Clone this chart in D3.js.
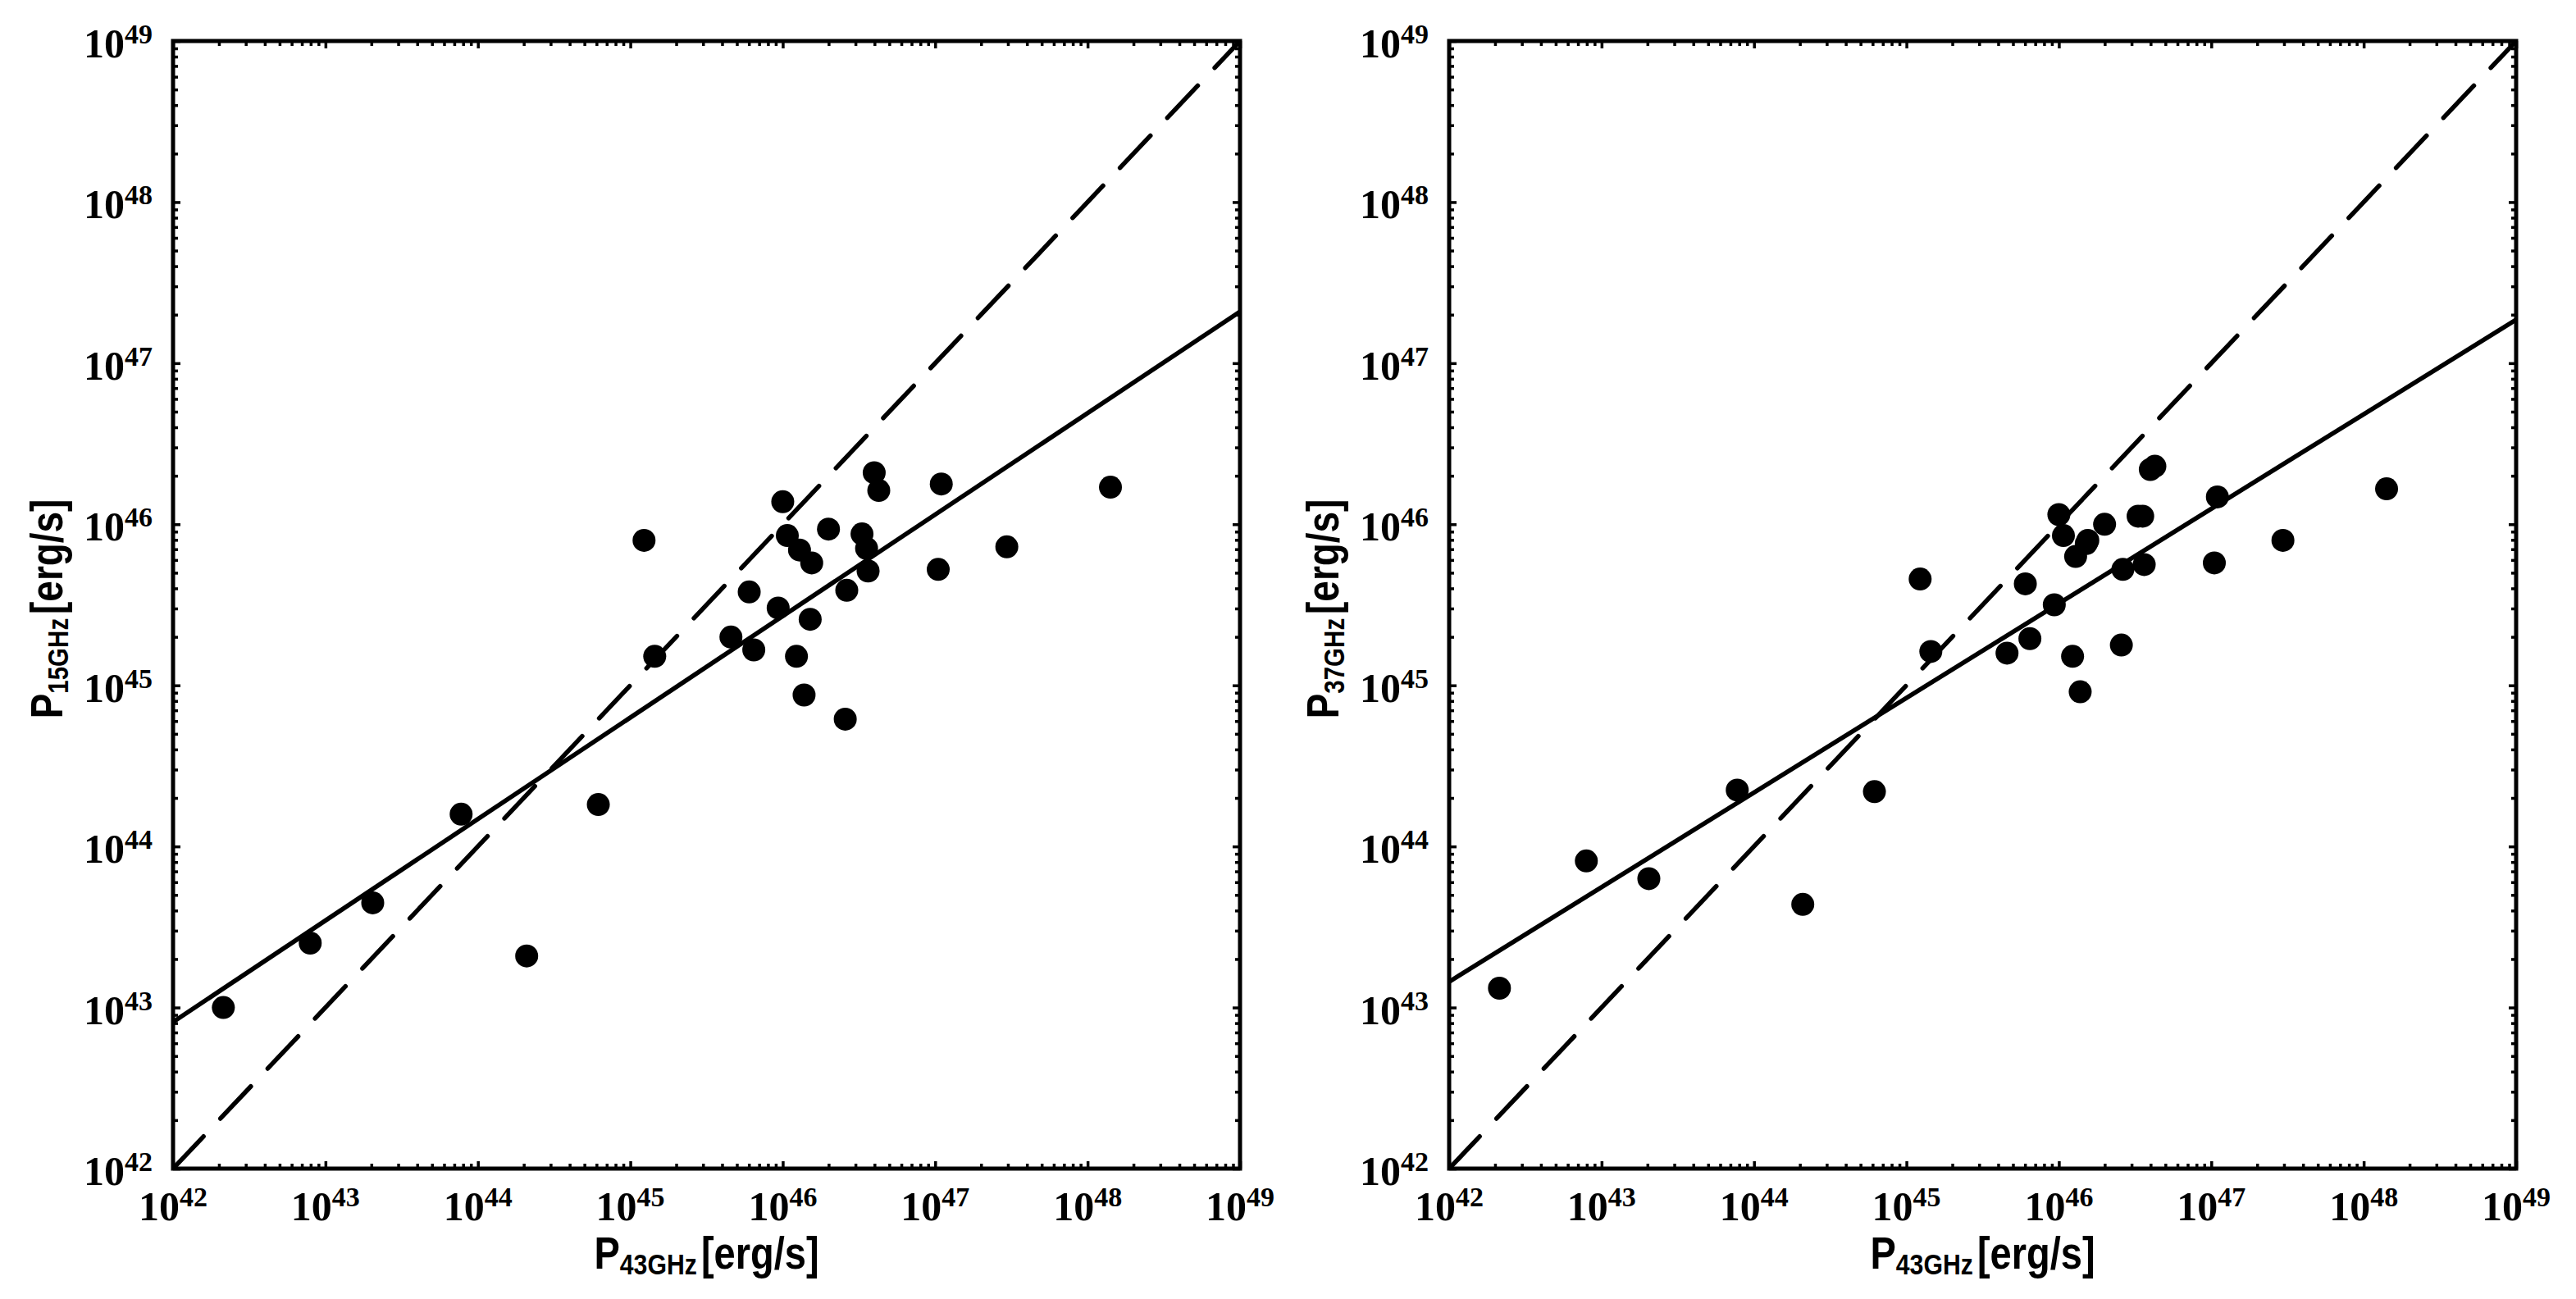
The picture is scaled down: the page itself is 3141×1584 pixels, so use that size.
<!DOCTYPE html>
<html><head><meta charset="utf-8">
<script src="https://cdn.jsdelivr.net/npm/d3@7"></script>
<style>body{margin:0;background:#fff}svg{display:block}</style>
</head><body>
<svg id="c" width="3141" height="1584"></svg>
<script>
// log10 of luminosities
const logP43 = [42.33, 42.90, 43.31, 43.89, 44.32, 44.79, 45.09, 45.16, 45.66, 45.78, 45.81, 45.97, 46.00, 46.03, 46.09, 46.11,
                46.14, 46.18, 46.19, 46.30, 46.41, 46.42, 46.52, 46.55, 46.56, 46.60, 46.63, 47.02, 47.04, 47.47, 48.15];
const logP15 = [43.00, 43.40, 43.65, 44.20, 43.32, 44.26, 45.90, 45.18, 45.30, 45.58, 45.22, 45.48, 46.14, 45.93, 45.18, 45.84,
                44.94, 45.41, 45.76, 45.97, 44.79, 45.59, 45.94, 45.85, 45.71, 46.32, 46.21, 45.72, 46.25, 45.86, 46.23];
const logP37 = [43.12, 43.91, 43.80, 44.35, 43.64, 44.34, 45.66, 45.21, 45.20, 45.63, 45.29, 45.50, 46.06, 45.93, 45.18, 45.80,
                44.96, 45.88, 45.90, 46.00, 45.25, 45.72, 46.05, 46.05, 45.75, 46.34, 46.36, 45.76, 46.17, 45.90, 46.22];
// fitted relations: log y at x = 1e42 and x = 1e49
const fit15 = [42.91, 47.32];
const fit37 = [43.16, 47.27];
const oneToOne = [42, 49];
const tickExps = [42, 43, 44, 45, 46, 47, 48, 49];
const xLabelSub = "43GHz";
const yLabelSubs = ["15GHz", "37GHz"];

const svg = d3.select("#c");
const yTop = 50, yBot = 1425;
const panels = [
  {left: 211, right: 1512, ylog: logP15, sub: yLabelSubs[0], fit: fit15},
  {left: 1767, right: 3068, ylog: logP37, sub: yLabelSubs[1], fit: fit37}
];
const majors = tickExps.map(e => Math.pow(10, e));
const minors = [];
for (let k = 42; k < 49; k++) for (let m = 2; m <= 9; m++) minors.push(m * Math.pow(10, k));

panels.forEach((p, pi) => {
  const x = d3.scaleLog().domain([1e42, 1e49]).range([p.left, p.right]);
  const y = d3.scaleLog().domain([1e42, 1e49]).range([yBot, yTop]);
  const g = svg.append("g");
  const cid = "clip" + pi;
  svg.append("clipPath").attr("id", cid).append("rect")
    .attr("x", p.left).attr("y", yTop).attr("width", p.right - p.left).attr("height", yBot - yTop);

  // ticks on all four sides, pointing inward
  const axes = [
    [() => d3.axisBottom(x), `translate(0,${yBot})`],
    [() => d3.axisTop(x), `translate(0,${yTop})`],
    [() => d3.axisLeft(y), `translate(${p.left},0)`],
    [() => d3.axisRight(y), `translate(${p.right},0)`]
  ];
  axes.forEach(([mk, tr]) => {
    g.append("g").attr("transform", tr)
      .call(mk().tickValues(minors).tickSize(-6).tickFormat(""))
      .call(s => { s.select(".domain").remove(); s.selectAll("line").attr("stroke", "#000").attr("stroke-width", 3.5); });
    g.append("g").attr("transform", tr)
      .call(mk().tickValues(majors).tickSize(-9).tickFormat(""))
      .call(s => { s.select(".domain").remove(); s.selectAll("line").attr("stroke", "#000").attr("stroke-width", 3.5); });
  });

  // frame
  g.append("rect").attr("x", p.left).attr("y", yTop).attr("width", p.right - p.left).attr("height", yBot - yTop)
    .attr("fill", "none").attr("stroke", "#000").attr("stroke-width", 5);

  // tick labels
  const fam = "'Liberation Serif', 'DejaVu Serif', serif";
  tickExps.forEach(e => {
    const v = Math.pow(10, e);
    const tx = g.append("text").attr("x", x(v)).attr("y", yBot + 63).attr("text-anchor", "middle")
      .attr("font-family", fam).attr("font-weight", "bold").attr("font-size", 50);
    tx.append("tspan").text("10");
    tx.append("tspan").attr("font-size", 34).attr("dy", -17).text(String(e));
    const ty = g.append("text").attr("x", p.left - 25).attr("y", y(v) + 20).attr("text-anchor", "end")
      .attr("font-family", fam).attr("font-weight", "bold").attr("font-size", 50);
    ty.append("tspan").text("10");
    ty.append("tspan").attr("font-size", 34).attr("dy", -17).text(String(e));
  });

  // axis labels (horizontally condensed like the reference)
  const lf = "'Liberation Sans', Arial, sans-serif";
  const xl = g.append("text")
    .attr("transform", `translate(${(p.left + p.right) / 2},1547) scale(0.84,1)`).attr("text-anchor", "middle")
    .attr("font-family", lf).attr("font-weight", "bold").attr("font-size", 56);
  xl.append("tspan").text("P");
  xl.append("tspan").attr("font-size", 36).attr("dy", 7).text(xLabelSub);
  xl.append("tspan").attr("dy", -7).attr("dx", 6).text("[erg/s]");

  const cy = (yTop + yBot) / 2 + 5;
  const yl = g.append("text").attr("transform", `translate(${p.left - 135},${cy}) rotate(-90) scale(0.82,1)`)
    .attr("text-anchor", "middle")
    .attr("font-family", lf).attr("font-weight", "bold").attr("font-size", 56);
  yl.append("tspan").text("P");
  yl.append("tspan").attr("font-size", 36).attr("dy", 7).text(p.sub);
  yl.append("tspan").attr("dy", -7).attr("dx", 6).text("[erg/s]");

  // lines
  const line = d3.line().x(d => x(Math.pow(10, d[0]))).y(d => y(Math.pow(10, d[1])));
  const lines = g.append("g").attr("clip-path", `url(#${cid})`);
  lines.append("path").attr("d", line([[42, oneToOne[0]], [49, oneToOne[1]]]))
    .attr("fill", "none").attr("stroke", "#000").attr("stroke-width", 5.5)
    .attr("stroke-linecap", "round").attr("stroke-dasharray", "54,30");
  lines.append("path").attr("d", line([[42, p.fit[0]], [49, p.fit[1]]]))
    .attr("fill", "none").attr("stroke", "#000").attr("stroke-width", 5.5);

  // points
  g.append("g").selectAll("circle").data(logP43.map((lx, i) => [lx, p.ylog[i]])).join("circle")
    .attr("cx", d => x(Math.pow(10, d[0]))).attr("cy", d => y(Math.pow(10, d[1]))).attr("r", 14).attr("fill", "#000");
});
</script>
</body></html>
